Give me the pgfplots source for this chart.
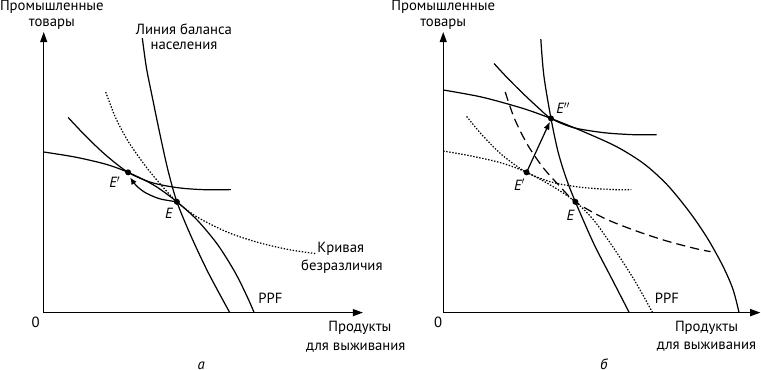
\documentclass[border=0pt]{standalone}
\usepackage{pgfplots}
\pgfplotsset{compat=1.18}
\usepackage{fontspec}
\setmainfont{PT Sans}
\usetikzlibrary{arrows.meta}
\tikzset{
  lbl/.style={font=\fontsize{14.5}{16}\selectfont,inner sep=0pt},
  dotted curve/.style={dash pattern=on 1.4pt off 1.6pt},
  dashed curve/.style={dash pattern=on 9pt off 5pt},
  axarrow/.style={-{Triangle[length=10pt,width=7pt]}},
}
\begin{document}
\begin{tikzpicture}
\begin{axis}[width=761pt,height=378pt,scale only axis,
  xmin=0,xmax=761,ymin=0,ymax=378,y dir=reverse,
  hide axis,clip=false,
  every axis plot/.append style={line width=1.2pt,black},
]
% ---------------- left panel ----------------
\addplot[axarrow] coordinates {(49,313) (49,37)};
\addplot[axarrow] coordinates {(49,313) (363,313)};
% population balance line
\addplot[smooth] coordinates {(146,43) (150,72) (156,102) (163,136) (171,172) (180,204) (194,238) (211,274) (232,313)};
% PPF
\addplot[smooth] coordinates {(49,155) (80,160) (110,167) (132,175) (158,188) (180,204) (200,222) (220,246) (237,273) (249,297) (256,313)};
% indifference curve through E'
\addplot[smooth] coordinates {(73,121) (90,139) (110,158) (132,175) (155,185) (180,190) (205,192) (233,192)};
% dotted indifference curve through E
\addplot[smooth,dotted curve] coordinates {(110,96) (120,122) (133,146) (150,170) (165,188) (180,204) (200,219) (230,234) (260,244) (290,251) (317,255)};
% arrow E -> E'
\addplot[smooth,-{Latex[length=7pt,width=6pt]}] coordinates {(180,204) (163,201) (149,195) (140,188) (134,180)};
\addplot[only marks,mark=*,mark size=2.3pt] coordinates {(132,175) (180,204)};
% ---------------- right panel ----------------
\addplot[axarrow] coordinates {(442,313) (442,37)};
\addplot[axarrow] coordinates {(442,313) (754,313)};
% population balance line
\addplot[smooth] coordinates {(538,44) (541,80) (548,122) (555,155) (563,181) (572,204) (590,245) (608,280) (625,313)};
% new PPF
\addplot[smooth] coordinates {(442,94) (480,101) (520,112) (548,122) (580,135) (613,150) (640,167) (663,188) (685,215) (702,240) (717,267) (727,290) (733,313)};
% new indifference curve
\addplot[smooth] coordinates {(492,68) (505,82) (520,97) (535,111) (548,122) (570,131) (600,136) (630,138) (652,138)};
% old PPF dotted
\addplot[smooth,dotted curve] coordinates {(442,154) (470,159) (500,166) (524,175) (550,189) (572,204) (590,222) (610,250) (630,281) (648,313)};
% old indifference curve dotted
\addplot[smooth,dotted curve] coordinates {(465,120) (480,138) (500,158) (524,175) (550,185) (580,190) (610,192) (627,192)};
% dashed indifference curve through E
\addplot[smooth,dashed curve] coordinates {(503,96) (512,122) (525,148) (540,170) (556,188) (572,204) (600,220) (630,232) (660,242) (690,250) (705,253)};
% arrow E' -> E''
\addplot[-{Latex[length=8pt,width=6pt]}] coordinates {(524,175) (547,125)};
\addplot[only marks,mark=*,mark size=2.3pt] coordinates {(524,175) (572,204) (548,122)};
% ---------------- labels ----------------
\node[lbl] at (axis cs:57,12) {Промышленные};
\node[lbl] at (axis cs:57,29) {товары};
\node[lbl] at (axis cs:187,34) {Линия баланса};
\node[lbl] at (axis cs:187,51) {населения};
\node[lbl,anchor=west] at (axis cs:318,250) {Кривая};
\node[lbl,anchor=west] at (axis cs:302,268) {безразличия};
\node[lbl] at (axis cs:272,299) {PPF};
\node[lbl] at (axis cs:360,328) {Продукты};
\node[lbl] at (axis cs:356,347) {для выживания};
\node[lbl] at (axis cs:41,323) {0};
\node[lbl] at (axis cs:204,365) {\itshape а};
\node[lbl] at (axis cs:119,185) {\itshape E$'$};
\node[lbl] at (axis cs:172,215) {\itshape E};
\node[lbl] at (axis cs:442,12) {Промышленные};
\node[lbl] at (axis cs:442,29) {товары};
\node[lbl] at (axis cs:662,299) {PPF};
\node[lbl] at (axis cs:701,328) {Продукты};
\node[lbl] at (axis cs:701,346) {для выживания};
\node[lbl] at (axis cs:437,323) {0};
\node[lbl] at (axis cs:600,364) {\itshape б};
\node[lbl] at (axis cs:560,112) {\itshape E$''$};
\node[lbl] at (axis cs:517,187) {\itshape E$'$};
\node[lbl] at (axis cs:567,217) {\itshape E};
\end{axis}
\end{tikzpicture}
\end{document}
